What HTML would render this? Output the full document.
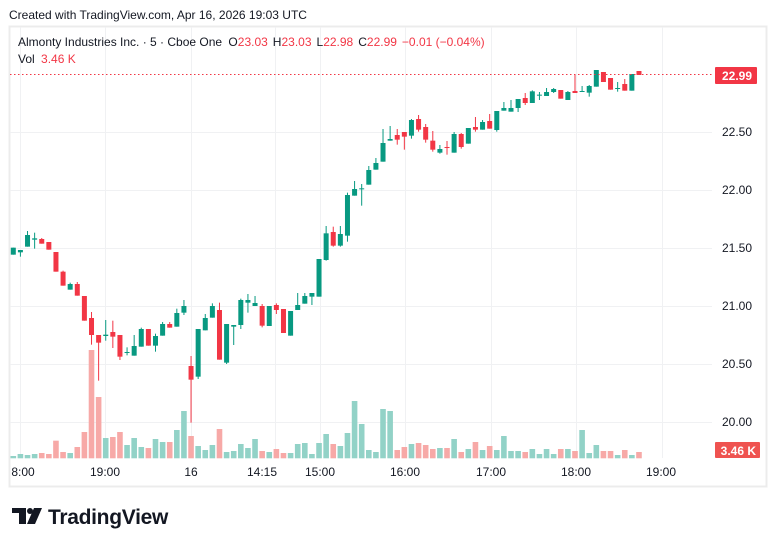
<!DOCTYPE html>
<html><head><meta charset="utf-8"><style>
html,body{margin:0;padding:0;background:#fff;width:776px;height:546px;overflow:hidden;font-family:"Liberation Sans",sans-serif;}
svg{position:absolute;left:0;top:0}
</style></head><body>
<svg id="s" width="776" height="546" xmlns="http://www.w3.org/2000/svg" font-family="Liberation Sans, sans-serif">
<text x="9" y="19" font-size="12" fill="#131722">Created with TradingView.com, Apr 16, 2026 19:03 UTC</text>
<rect x="9.5" y="26.5" width="757" height="460" fill="#fff" stroke="#ececec" stroke-width="2"/>
<g id="grid" stroke="#f0f1f3" stroke-width="1"></g>
<g id="vol"></g>
<g id="cdl"></g>
<line x1="10" y1="74.5" x2="712" y2="74.5" stroke="#F23645" stroke-dasharray="1.5,2.5" stroke-width="1"/>
<text x="18" y="46" font-size="12" fill="#131722">Almonty Industries Inc. · 5 · Cboe One <tspan dx="3">O</tspan><tspan fill="#F23645">23.03</tspan><tspan dx="5">H</tspan><tspan fill="#F23645">23.03</tspan><tspan dx="5">L</tspan><tspan fill="#F23645">22.98</tspan><tspan dx="5">C</tspan><tspan fill="#F23645">22.99</tspan><tspan dx="5" fill="#F23645">−0.01 (−0.04%)</tspan></text>
<text x="18" y="63" font-size="12" fill="#131722">Vol <tspan dx="3" fill="#F23645">3.46 K</tspan></text>
<g font-size="12" fill="#131722" text-anchor="end">
<text x="752" y="136">22.50</text><text x="752" y="194">22.00</text><text x="752" y="252">21.50</text>
<text x="752" y="310">21.00</text><text x="752" y="368">20.50</text><text x="752" y="426">20.00</text>
</g>
<rect x="715" y="67" width="42" height="17" rx="1" fill="#F23645"/>
<text x="752" y="80" font-size="12" font-weight="bold" fill="#fff" text-anchor="end">22.99</text>
<rect x="715" y="442" width="45" height="16" rx="1" fill="#EF5350"/>
<text x="756" y="455" font-size="12" font-weight="bold" fill="#fff" text-anchor="end">3.46 K</text>
<g font-size="12" fill="#131722" text-anchor="middle">
<text x="23" y="476">8:00</text><text x="105" y="476">19:00</text><text x="191" y="476">16</text>
<text x="262" y="476">14:15</text><text x="320" y="476">15:00</text><text x="405" y="476">16:00</text>
<text x="491" y="476">17:00</text><text x="576" y="476">18:00</text><text x="661" y="476">19:00</text>
</g>
<g fill="#131722">
<rect x="12" y="508" width="14" height="5"/><rect x="19" y="508" width="7" height="16"/>
<circle cx="30" cy="511" r="3"/><polygon points="34,508 42,508 35,524 27,524"/>
<text x="48" y="524" font-size="21" font-weight="bold" letter-spacing="-0.3">TradingView</text>
</g>
</svg>
<script>
var C=[
['g',83,104,83,104],['g',90,97,90,110],['g',45,80,33,80],['g',55,59,38,86],['r',57,71,54,71],['r',66,89,66,89],['r',96,155,96,155],['r',155,197,152,197],['g',192,209,188,209],['r',192,227,186,227],
['r',228,302,228,302],['r',294,345,276,374],['r',345,368,345,482],['g',344,348,300,362],['r',336,350,302,384],['r',345,410,345,420],['g',396,399,382,406],['g',378,407,345,407],['g',327,380,323,380],['r',327,377,327,377],
['g',348,377,341,395],['g',312,347,306,347],['r',312,323,306,323],['g',279,320,266,320],['g',258,278,240,285],['r',438,479,408,608],['g',327,470,327,477],['g',294,331,282,331],['g',258,293,250,293],['r',270,419,248,419],
['g',312,428,312,432],['g',315,320,315,375],['g',240,315,236,327],['g',240,248,222,278],['g',249,258,228,258],['r',258,317,252,322],['g',258,318,258,318],['r',255,270,250,282],['r',267,339,267,339],['g',273,347,273,347],
['g',255,270,219,270],['g',228,251,219,251],['g',219,230,219,255],['g',117,230,117,230],['g',40,120,18,122]];
var C2=[
['r',516,557,500,560],['g',522,557,498,560],['g',405,527,398,545],['g',387,407,363,407],['g',385,388,372,437],['g',330,374,318,374],['g',309,329,294,329],['g',249,305,207,305],['g',237,242,198,242],['r',225,239,207,254],
['r',216,230,216,269],['g',180,227,177,236],['r',177,209,165,215],['r',201,239,192,248],['r',242,269,213,275],['g',267,278,255,281],['r',261,263,243,284],['g',222,278,216,278],['r',222,261,219,266],['g',204,251,204,251],
['r',201,209,171,215],['g',186,209,180,209],['r',183,206,162,206],['g',153,210,153,215],['g',144,152,126,152],['g',144,155,120,155],['g',117,144,117,156],['r',114,129,99,135],['g',94,129,91,129],['g',104,107,96,120],
['g',96,108,84,108],['g',87,96,84,99],['r',90,116,90,116],['g',96,120,93,120],['r',93,99,45,99],['g',93,96,78,96],['g',78,98,75,110],['g',30,80,30,80],['r',36,66,36,66],['r',54,89,54,89],
['g',84,87,66,95],['r',72,92,57,92],['g',42,92,42,92],['r',33,45,33,45]];
var V1=[708,702,705,702,699,702,662,696,699,681,636,390,531,654,651,636,675,654,681,684,657,666,666,630,573,648,678,690,675,627,696,693,672,684,657,693,696,687,699,699,672,669,702,669,642];
var V2=[1152,1158,1119,1023,1092,1170,1176,1047,1053,1170,1161,1152,1149,1155,1167,1164,1164,1137,1176,1167,1146,1170,1158,1170,1128,1173,1173,1176,1167,1182,1167,1182,1167,1167,1173,1110,1179,1155,1173,1173,1185,1170,1185,1176];
var all=[],vols=[];
C.forEach(function(c,i){all.push([c[0],c[1]/3+220,c[2]/3+220,c[3]/3+220,c[4]/3+220]);vols.push(V1[i]/3+220);});
C2.forEach(function(c,i){all.push([c[0],c[1]/3+60,c[2]/3+60,c[3]/3+60,c[4]/3+60]);vols.push(V2[i]/3+60);});
var ns='http://www.w3.org/2000/svg';
function el(p,t,a){var e=document.createElementNS(ns,t);for(var k in a)e.setAttribute(k,a[k]);p.appendChild(e);return e;}
var g=document.getElementById('grid');
[132,190,248,306,364,422].forEach(function(y){el(g,'line',{x1:10,x2:712,y1:y+.5,y2:y+.5});});
[20,105,191,275,320,405,491,576,662].forEach(function(x){el(g,'line',{x1:x+.5,x2:x+.5,y1:27,y2:458});});
var cg=document.getElementById('cdl'),vg=document.getElementById('vol');
var base=458.3;
all.forEach(function(c,i){
 var x=13.3+i*7.11, col=c[0]=='g'?'#089981':'#F23645';
 el(cg,'rect',{x:x-0.5,y:c[3],width:1,height:Math.max(1,c[4]-c[3]),fill:col});
 el(cg,'rect',{x:x-2.5,y:c[1],width:5,height:Math.max(1,c[2]-c[1]),fill:col});
 el(vg,'rect',{x:x-2.8,y:vols[i],width:5.6,height:base-vols[i],fill:c[0]=='g'?'#92D2C7':'#F7A9A7'});
});
</script>
</body></html>
